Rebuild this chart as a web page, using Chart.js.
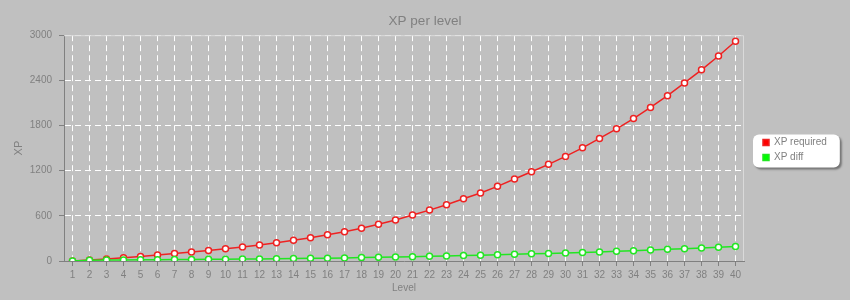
<!DOCTYPE html>
<html>
<head>
<meta charset="utf-8">
<script src="https://cdn.jsdelivr.net/npm/chart.js@4"></script>
<style>
  html, body { margin: 0; background: #c0c0c0; }
  #wrap { width: 850px; height: 300px; }
</style>
</head>
<body>
<div id="wrap"><canvas id="xpChart"></canvas></div>
<script>
/* data */
var levels = ['1','2','3','4','5','6','7','8','9','10','11','12','13','14','15','16','17','18','19','20',
              '21','22','23','24','25','26','27','28','29','30','31','32','33','34','35','36','37','38','39','40'];

var xpRequired = [0, 12, 26, 42, 60, 80, 100, 120, 140, 162, 186, 214, 244, 276, 310, 348, 390, 436, 488, 546,
                  610, 676, 748, 826, 904, 992, 1090, 1186, 1284, 1390, 1504, 1628, 1756, 1892, 2040, 2196, 2366, 2540, 2724, 2920];

var xpDiff = [0, 10, 12, 14, 16, 18, 20, 21, 22, 24, 26, 28, 30, 32, 35, 38, 41, 45, 49, 54,
              58, 63, 68, 73, 78, 84, 89, 95, 101, 107, 113, 120, 128, 137, 146, 155, 164, 173, 182, 192];

var yMin = 0;
var yMax = 3000;
var yStep = 600;

var grey = '#808080';
var font = 'Liberation Sans, Arial, sans-serif';
var legendWidth = 106;
var legendShift = 14;

// white rounded legend box, light top/right frame, legend pushed away from plot
var extras = {
    id: 'extras',
    beforeLayout: (chart) => {
        const lg = chart.legend;
        if (lg && !lg._wide) {
            const fit = lg.fit;
            lg.fit = function () { fit.call(this); this.width = legendWidth; };
            lg._wide = true;
        }
    },
    afterLayout: (chart) => {
        chart.legend.left += legendShift;
    },
    beforeDraw: (chart) => {
        const ctx = chart.ctx;
        const hb = chart.legend.legendHitBoxes;
        if (!hb || !hb.length) return;
        const x0 = hb[0].left - 10;
        const y0 = hb[0].top - 3;
        const x1 = Math.max(...hb.map(h => h.left + h.width)) + 13;
        const y1 = hb[hb.length - 1].top + hb[hb.length - 1].height + 5;
        ctx.save();
        ctx.shadowColor = 'rgba(0,0,0,0.4)';
        ctx.shadowOffsetX = 2;
        ctx.shadowOffsetY = 2;
        ctx.shadowBlur = 2;
        ctx.fillStyle = '#ffffff';
        ctx.beginPath();
        ctx.roundRect(x0, y0, x1 - x0, y1 - y0, 6);
        ctx.fill();
        ctx.restore();
    },
    beforeDatasetsDraw: (chart) => {
        const ctx = chart.ctx;
        const a = chart.chartArea;
        ctx.save();
        ctx.strokeStyle = '#dadada';
        ctx.lineWidth = 1;
        ctx.beginPath();
        ctx.moveTo(a.left, a.top + 0.5);
        ctx.lineTo(a.right - 0.5, a.top + 0.5);
        ctx.lineTo(a.right - 0.5, a.bottom);
        ctx.stroke();
        ctx.restore();
    }
};

var xpChart = new Chart(document.getElementById('xpChart'), {
    type: 'line',
    data: {
        labels: levels,
        datasets: [
            {
                label: 'XP required',
                data: xpRequired,
                borderColor: 'rgb(238,34,34)',
                backgroundColor: '#ff0000',
                borderWidth: 1.5,
                pointRadius: 3,
                pointBorderWidth: 1.5,
                pointBackgroundColor: '#ffffff',
                pointBorderColor: 'rgb(238,34,34)',
                order: 1
            },
            {
                label: 'XP diff',
                data: xpDiff,
                borderColor: 'rgb(34,230,34)',
                backgroundColor: '#00ff00',
                borderWidth: 1.5,
                pointRadius: 3,
                pointBorderWidth: 1.5,
                pointBackgroundColor: '#ffffff',
                pointBorderColor: 'rgb(34,230,34)',
                order: 0
            }
        ]
    },
    options: {
        responsive: true,
        maintainAspectRatio: false,
        animation: false,
        layout: { padding: 0 },
        plugins: {
            title: {
                display: true,
                text: 'XP per level',
                color: grey,
                font: { family: font, size: 13.5, weight: 'normal' },
                padding: { top: 13, bottom: 6 }
            },
            legend: {
                position: 'right',
                labels: {
                    boxWidth: 6,
                    boxHeight: 6,
                    padding: 5,
                    color: grey,
                    font: { family: font, size: 10 },
                    sort: (a, b) => a.datasetIndex - b.datasetIndex
                }
            },
            tooltip: { enabled: false }
        },
        scales: {
            x: {
                offset: true,
                grid: {
                    offset: false,
                    color: '#ffffff',
                    tickColor: grey,
                    tickLength: 5,
                    tickBorderDash: []
                },
                border: { color: grey, dash: [6, 4], display: true },
                ticks: {
                    color: grey,
                    font: { family: font, size: 10 },
                    autoSkip: false,
                    maxRotation: 0,
                    padding: 3
                },
                title: {
                    display: true,
                    text: 'Level',
                    color: grey,
                    font: { family: font, size: 10, lineHeight: 1 },
                    padding: { top: -1, bottom: 7 }
                }
            },
            y: {
                min: yMin,
                max: yMax,
                afterFit: (s) => { s.width = 64; },
                grid: {
                    color: '#ffffff',
                    tickColor: grey,
                    tickLength: 5,
                    tickBorderDash: []
                },
                border: { color: grey, dash: [6, 4], display: true },
                ticks: {
                    stepSize: yStep,
                    color: grey,
                    font: { family: font, size: 10 },
                    padding: 7,
                    callback: (v) => String(v)
                },
                title: {
                    display: true,
                    text: 'XP',
                    color: grey,
                    font: { family: font, size: 11 },
                    padding: { top: 12, bottom: 0 }
                }
            }
        }
    },
    plugins: [extras]
});
</script>
</body>
</html>
